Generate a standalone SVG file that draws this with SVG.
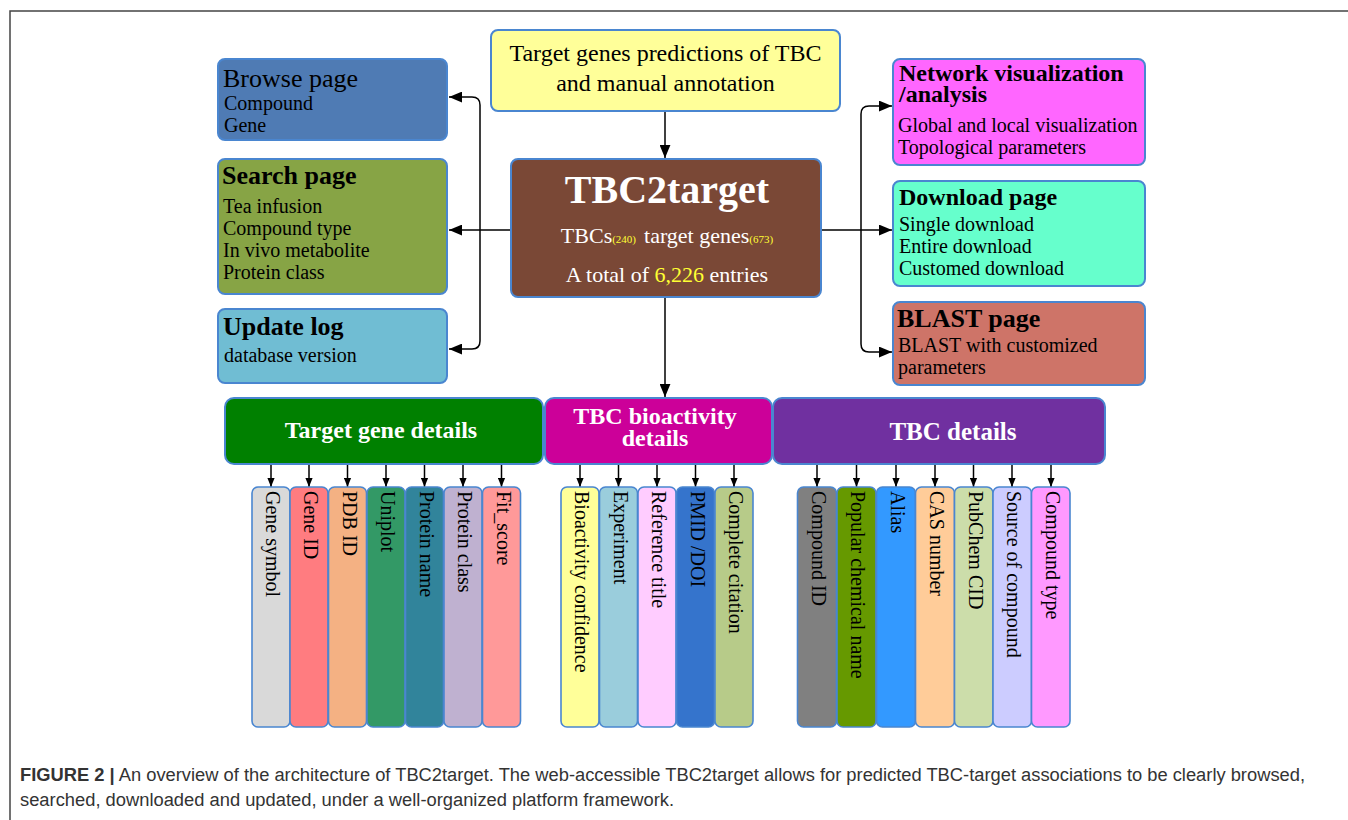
<svg xmlns="http://www.w3.org/2000/svg" width="1348" height="820" viewBox="0 0 1348 820">
<style>
.box{stroke:#4A86D0;stroke-width:2}
.col{stroke:#4A86D0;stroke-width:1.6}
.t{font-family:"Liberation Serif","Times New Roman",serif;fill:#000}
.w{fill:#fff}
.b{font-weight:bold}
.h26{font-size:26px}
.h24{font-size:24px}
.s20{font-size:20px}
.ct{font-family:"Liberation Serif","Times New Roman",serif;font-size:20px;fill:#000}
.ln{fill:none;stroke:#000;stroke-width:1.5}
.cap{font-family:"Liberation Sans",Arial,sans-serif;font-size:18px;fill:#333}
</style>
<defs>
<marker id="ah" viewBox="0 0 12 10" refX="12" refY="5" markerWidth="13" markerHeight="11" markerUnits="userSpaceOnUse" orient="auto"><path d="M0,0 L12,5 L0,10 z" fill="#000"/></marker>
<marker id="as" viewBox="0 0 10 8" refX="10" refY="4" markerWidth="9" markerHeight="8" markerUnits="userSpaceOnUse" orient="auto"><path d="M0,0 L10,4 L0,8 z" fill="#000"/></marker>
</defs>
<rect width="1348" height="820" fill="#fff"/>
<path d="M10,820 V11 H1348" fill="none" stroke="#444" stroke-width="1.5"/>

<g id="connectors">
<path class="ln" d="M665,111 V158" marker-end="url(#ah)"/>
<path class="ln" d="M511,230 H449" marker-end="url(#ah)"/>
<path class="ln" d="M480,230 V105 Q480,97 472,97 H449" marker-end="url(#ah)"/>
<path class="ln" d="M480,230 V341 Q480,349 472,349 H449" marker-end="url(#ah)"/>
<path class="ln" d="M822,230 H892" marker-end="url(#ah)"/>
<path class="ln" d="M861,230 V114 Q861,106 869,106 H892" marker-end="url(#ah)"/>
<path class="ln" d="M861,230 V344 Q861,352 869,352 H892" marker-end="url(#ah)"/>
<path class="ln" d="M665,298 V397" marker-end="url(#ah)"/>
<g>
<path class="ln" d="M271,464 V487" marker-end="url(#as)"/>
<path class="ln" d="M309,464 V487" marker-end="url(#as)"/>
<path class="ln" d="M347.5,464 V487" marker-end="url(#as)"/>
<path class="ln" d="M386,464 V487" marker-end="url(#as)"/>
<path class="ln" d="M424.5,464 V487" marker-end="url(#as)"/>
<path class="ln" d="M463,464 V487" marker-end="url(#as)"/>
<path class="ln" d="M501.5,464 V487" marker-end="url(#as)"/>
<path class="ln" d="M580,464 V487" marker-end="url(#as)"/>
<path class="ln" d="M618.5,464 V487" marker-end="url(#as)"/>
<path class="ln" d="M657,464 V487" marker-end="url(#as)"/>
<path class="ln" d="M695.5,464 V487" marker-end="url(#as)"/>
<path class="ln" d="M734,464 V487" marker-end="url(#as)"/>
<path class="ln" d="M817,464 V487" marker-end="url(#as)"/>
<path class="ln" d="M856.5,464 V487" marker-end="url(#as)"/>
<path class="ln" d="M896,464 V487" marker-end="url(#as)"/>
<path class="ln" d="M935,464 V487" marker-end="url(#as)"/>
<path class="ln" d="M973.5,464 V487" marker-end="url(#as)"/>
<path class="ln" d="M1012,464 V487" marker-end="url(#as)"/>
<path class="ln" d="M1051,464 V487" marker-end="url(#as)"/>
</g>
</g>

<g id="n-source">
<rect class="box" x="491" y="30" width="349" height="81" rx="7" fill="#FFFF99"/>
<text class="t" x="665.5" y="61" font-size="24" text-anchor="middle">Target genes predictions of TBC</text>
<text class="t" x="665.5" y="91" font-size="24" text-anchor="middle">and manual annotation</text>
</g>

<g id="n-center">
<rect class="box" x="511" y="159" width="310" height="138" rx="7" fill="#7A4836" stroke="#3A8EE6"/>
<text class="t w b" x="667" y="203" font-size="40" text-anchor="middle">TBC2target</text>
<text class="t w" x="667" y="243" font-size="22" text-anchor="middle">TBCs<tspan font-size="11" fill="#FFFF33">(240)</tspan><tspan dx="8">target genes</tspan><tspan font-size="11" fill="#FFFF33">(673)</tspan></text>
<text class="t w" x="667" y="282" font-size="22" text-anchor="middle">A total of <tspan fill="#FFFF33">6,226</tspan> entries</text>
</g>

<g id="n-browse">
<rect class="box" x="218" y="59" width="229" height="81" rx="7" fill="#4F7BB4"/>
<text class="t h26" x="223" y="87">Browse page</text>
<text class="t s20" x="224" y="110">Compound</text>
<text class="t s20" x="224" y="132">Gene</text>
</g>

<g id="n-search">
<rect class="box" x="218" y="159" width="229" height="135" rx="7" fill="#87A445"/>
<text class="t h26 b" x="222" y="184">Search page</text>
<text class="t s20" x="223" y="213">Tea infusion</text>
<text class="t s20" x="223" y="235">Compound type</text>
<text class="t s20" x="223" y="257">In vivo metabolite</text>
<text class="t s20" x="223" y="279">Protein class</text>
</g>

<g id="n-update">
<rect class="box" x="218" y="309" width="229" height="74" rx="7" fill="#70BDD3"/>
<text class="t h26 b" x="223" y="335">Update log</text>
<text class="t s20" x="224" y="362">database version</text>
</g>

<g id="n-network">
<rect class="box" x="893" y="59" width="252" height="106" rx="7" fill="#FF66FF"/>
<text class="t h24 b" x="899" y="81">Network visualization</text>
<text class="t h24 b" x="899" y="102">/analysis</text>
<text class="t s20" x="898" y="132">Global and local visualization</text>
<text class="t s20" x="898" y="154">Topological parameters</text>
</g>

<g id="n-download">
<rect class="box" x="893" y="181" width="252" height="105" rx="7" fill="#66FFCC"/>
<text class="t h24 b" x="899" y="205">Download page</text>
<text class="t s20" x="899" y="231">Single download</text>
<text class="t s20" x="899" y="253">Entire download</text>
<text class="t s20" x="899" y="275">Customed download</text>
</g>

<g id="n-blast">
<rect class="box" x="893" y="302" width="252" height="83" rx="7" fill="#CE7468"/>
<text class="t h26 b" x="897" y="327">BLAST page</text>
<text class="t s20" x="898" y="352">BLAST with customized</text>
<text class="t s20" x="898" y="374">parameters</text>
</g>

<g id="n-target-gene-details">
<rect class="box" x="225" y="398" width="318" height="66" rx="9" fill="#008000"/>
<text class="t w b h24" x="381" y="438" text-anchor="middle">Target gene details</text>
</g>

<g id="n-bioactivity-details">
<rect class="box" x="545" y="398" width="227" height="66" rx="9" fill="#CC0099"/>
<text class="t w b h24" x="655" y="424" text-anchor="middle">TBC bioactivity</text>
<text class="t w b h24" x="655" y="446" text-anchor="middle">details</text>
</g>

<g id="n-tbc-details">
<rect class="box" x="773" y="398" width="332" height="66" rx="9" fill="#7030A0"/>
<text class="t w b" x="953" y="440" font-size="25" text-anchor="middle">TBC details</text>
</g>

<g id="n-gene-symbol"><rect class="col" x="252" y="487" width="38" height="240" rx="6" fill="#D9D9D9"/><text class="ct" transform="translate(266,491) rotate(90)">Gene symbol</text></g>
<g id="n-gene-id"><rect class="col" x="290" y="487" width="38" height="240" rx="6" fill="#FF7C80"/><text class="ct" transform="translate(304,491) rotate(90)">Gene ID</text></g>
<g id="n-pdb-id"><rect class="col" x="328.5" y="487" width="38" height="240" rx="6" fill="#F4B183"/><text class="ct" transform="translate(342.5,491) rotate(90)">PDB ID</text></g>
<g id="n-uniplot"><rect class="col" x="367" y="487" width="38" height="240" rx="6" fill="#339966"/><text class="ct" transform="translate(381,491) rotate(90)">Uniplot</text></g>
<g id="n-protein-name"><rect class="col" x="405.5" y="487" width="38" height="240" rx="6" fill="#31849B"/><text class="ct" transform="translate(419.5,491) rotate(90)">Protein name</text></g>
<g id="n-protein-class"><rect class="col" x="444" y="487" width="38" height="240" rx="6" fill="#BFB1D0"/><text class="ct" transform="translate(458,491) rotate(90)">Protein class</text></g>
<g id="n-fit-score"><rect class="col" x="482.5" y="487" width="38" height="240" rx="6" fill="#FF9999"/><text class="ct" transform="translate(496.5,491) rotate(90)">Fit_score</text></g>

<g id="n-bioactivity-confidence"><rect class="col" x="561" y="487" width="38" height="240" rx="6" fill="#FFFF99"/><text class="ct" transform="translate(575,491) rotate(90)">Bioactivity confidence</text></g>
<g id="n-experiment"><rect class="col" x="599.5" y="487" width="38" height="240" rx="6" fill="#9ACDDC"/><text class="ct" transform="translate(613.5,491) rotate(90)">Experiment</text></g>
<g id="n-reference-title"><rect class="col" x="638" y="487" width="38" height="240" rx="6" fill="#FFCCFF"/><text class="ct" transform="translate(652,491) rotate(90)">Reference title</text></g>
<g id="n-pmid-doi"><rect class="col" x="676.5" y="487" width="38" height="240" rx="6" fill="#3574CC"/><text class="ct" transform="translate(690.5,491) rotate(90)">PMID /DOI</text></g>
<g id="n-complete-citation"><rect class="col" x="715" y="487" width="38" height="240" rx="6" fill="#B7CB89"/><text class="ct" transform="translate(729,491) rotate(90)">Complete citation</text></g>

<g id="n-compound-id"><rect class="col" x="797.5" y="487" width="39" height="240" rx="6" fill="#808080"/><text class="ct" transform="translate(811.5,491) rotate(90)">Compound ID</text></g>
<g id="n-popular-chemical-name"><rect class="col" x="837" y="487" width="39" height="240" rx="6" fill="#669900"/><text class="ct" transform="translate(851,491) rotate(90)">Popular chemical name</text></g>
<g id="n-alias"><rect class="col" x="876.5" y="487" width="39" height="240" rx="6" fill="#3399FF"/><text class="ct" transform="translate(890.5,491) rotate(90)">Alias</text></g>
<g id="n-cas-number"><rect class="col" x="915.5" y="487" width="39" height="240" rx="6" fill="#FFCC99"/><text class="ct" transform="translate(929.5,491) rotate(90)">CAS number</text></g>
<g id="n-pubchem-cid"><rect class="col" x="954.5" y="487" width="38.5" height="240" rx="6" fill="#CCDDAA"/><text class="ct" transform="translate(968.5,491) rotate(90)">PubChem CID</text></g>
<g id="n-source-of-compound"><rect class="col" x="993" y="487" width="38.5" height="240" rx="6" fill="#CCCCFF"/><text class="ct" transform="translate(1007,491) rotate(90)">Source of compound</text></g>
<g id="n-compound-type"><rect class="col" x="1031.5" y="487" width="38.5" height="240" rx="6" fill="#FF99FF"/><text class="ct" transform="translate(1045.5,491) rotate(90)">Compound type</text></g>

<g id="caption">
<text class="cap" x="20" y="781" textLength="1285" lengthAdjust="spacingAndGlyphs"><tspan font-weight="bold">FIGURE 2 |</tspan> An overview of the architecture of TBC2target. The web-accessible TBC2target allows for predicted TBC-target associations to be clearly browsed,</text>
<text class="cap" x="20" y="806" textLength="654" lengthAdjust="spacingAndGlyphs">searched, downloaded and updated, under a well-organized platform framework.</text>
</g>
</svg>
